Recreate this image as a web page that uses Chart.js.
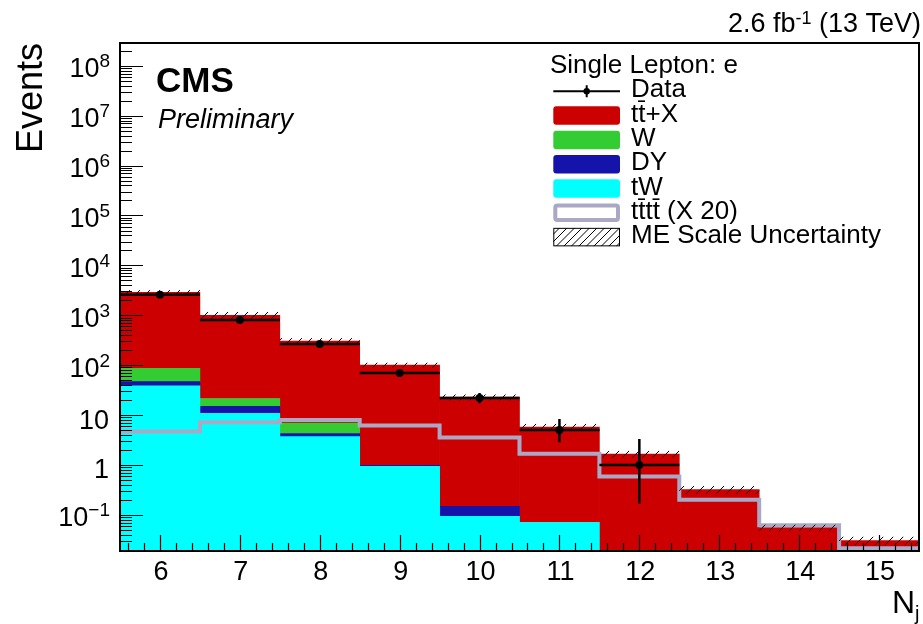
<!DOCTYPE html>
<html><head><meta charset="utf-8">
<script src="https://cdn.jsdelivr.net/npm/chart.js@4.4.0/dist/chart.umd.min.js"></script>
<style>html,body{margin:0;padding:0;background:#fff;} canvas{display:block;}</style>
</head><body>
<canvas id="c" width="923" height="624"></canvas>
<script>
// ---------- data ----------
const bins = [6, 7, 8, 9, 10, 11, 12, 13, 14, 15];
const xTickLabels = ['6', '7', '8', '9', '10', '11', '12', '13', '14', '15'];
const yTickExponents = [-1, 0, 1, 2, 3, 4, 5, 6, 7, 8];
const tW    = [38.5, 10.8, 3.7, 0.94, 0.094, 0.071, 0, 0, 0, 0];
const DY    = [8.5, 4.1, 0.58, 0.04, 0.055, 0, 0, 0, 0, 0];
const Wjets = [40, 6.6, 2.6, 0, 0, 0, 0, 0, 0, 0];
const ttX   = [2790, 980, 299, 100, 22.7, 5.7, 1.66, 0.32, 0.056, 0.0306];
const tttt20 = [4.7, 7.2, 8.0, 6.2, 3.56, 1.68, 0.59, 0.20, 0.062, 0.0215];
const dataCounts  = [2580, 805, 267, 70, 22, 5, 1, 0, 0, 0];
const dataErrLow  = [51, 28, 16, 8.3, 4.7, 2.16, 0.83, 0, 0, 0];
const dataErrHigh = [52, 29, 17, 9.4, 5.8, 3.38, 2.3, 0, 0, 0];
const meScaleUnc  = [0.11, 0.16, 0.14, 0.12, 0.14, 0.16, 0.16, 0.19, 0.15, 0.2];
const legendTitle = 'Single Lepton: e';
const legendLabels = ['Data', 'tt\u0304+X', 'W', 'DY', 'tW', 'tt\u0304tt\u0304 (X 20)', 'ME Scale Uncertainty'];
const yMin = 0.0189, yMax = 2.86e8, xMin = 5.5, xMax = 15.5;

const COL = { ttX: '#cc0000', W: '#33cc33', DY: '#1414aa', tW: '#00ffff', tttt: '#a9a9c6' };
const FONT = '"Liberation Sans", Arial, Helvetica, sans-serif';

function hatchRect(ctx, x0, y0, x1, y1, spacing) {
  ctx.save();
  ctx.beginPath(); ctx.rect(x0, y0, x1 - x0, y1 - y0); ctx.clip();
  ctx.beginPath();
  const cStart = Math.floor((x0 + y0) / spacing) * spacing;
  for (let c = cStart; c <= x1 + y1 + spacing; c += spacing) {
    ctx.moveTo(c - y1, y1); ctx.lineTo(c - y0, y0);
  }
  ctx.strokeStyle = '#000'; ctx.lineWidth = 1; ctx.stroke();
  ctx.restore();
}

function textSup(ctx, base, sup, xRight, baseY, mainSize, supSize, supRaise, extraStyle) {
  const st = extraStyle || '';
  ctx.font = st + supSize + 'px ' + FONT;
  const wSup = ctx.measureText(sup).width;
  ctx.textAlign = 'right'; ctx.textBaseline = 'alphabetic';
  ctx.fillText(sup, xRight, baseY - supRaise);
  ctx.font = st + mainSize + 'px ' + FONT;
  ctx.fillText(base, xRight - wSup, baseY);
}

const rootPlugin = {
  id: 'rootStyle',
  afterDatasetDraw(chart, args) {
    if (chart.data.datasets[args.index].label !== 'tttt') return;
    const ctx = chart.ctx, xs = chart.scales.xl, ys = chart.scales.y, a = chart.chartArea;
    ctx.save();
    ctx.beginPath(); ctx.rect(a.left, a.top, a.right - a.left, a.bottom - a.top); ctx.clip();
    bins.forEach((b, i) => {
      const tot = tW[i] + DY[i] + Wjets[i] + ttX[i];
      const x0 = xs.getPixelForValue(b - 0.5), x1 = xs.getPixelForValue(b + 0.5);
      const yt = ys.getPixelForValue(tot * (1 + meScaleUnc[i]));
      const yb = ys.getPixelForValue(tot * (1 - meScaleUnc[i]));
      hatchRect(ctx, x0, yt, x1, yb, 10);
    });
    ctx.restore();
  },
  afterDatasetsDraw(chart) {
    const ctx = chart.ctx, xs = chart.scales.xl, ys = chart.scales.y, a = chart.chartArea;
    ctx.save();
    ctx.beginPath(); ctx.rect(a.left, a.top, a.right - a.left, a.bottom - a.top); ctx.clip();
    ctx.strokeStyle = '#000'; ctx.lineWidth = 2.5;
    bins.forEach((b, i) => {
      if (dataCounts[i] <= 0) return;
      const xc = xs.getPixelForValue(b), yc = ys.getPixelForValue(dataCounts[i]);
      ctx.beginPath();
      ctx.moveTo(xs.getPixelForValue(b - 0.5), yc); ctx.lineTo(xs.getPixelForValue(b + 0.5), yc);
      ctx.moveTo(xc, ys.getPixelForValue(dataCounts[i] + dataErrHigh[i]));
      ctx.lineTo(xc, ys.getPixelForValue(Math.max(dataCounts[i] - dataErrLow[i], yMin)));
      ctx.stroke();
    });
    ctx.restore();
  },
  afterDraw(chart) {
    const ctx = chart.ctx, xs = chart.scales.xl, ys = chart.scales.y, a = chart.chartArea;
    ctx.save();
    // ticks
    ctx.strokeStyle = '#000'; ctx.lineWidth = 1.2;
    ctx.beginPath();
    for (let e = -2; e <= 8; e++) {
      for (let k = 1; k <= 9; k++) {
        const v = k * Math.pow(10, e);
        if (v < yMin || v > yMax) continue;
        const y = Math.round(ys.getPixelForValue(v)) + 0.5;
        ctx.moveTo(a.left, y); ctx.lineTo(a.left + (k === 1 ? 23 : 12), y);
      }
    }
    for (let t = 56; t <= 155; t += 2) {
      const v = t / 10;
      const x = Math.round(xs.getPixelForValue(v)) + 0.5;
      const major = (t % 10 === 0);
      ctx.moveTo(x, a.bottom); ctx.lineTo(x, a.bottom - (major ? 16 : 8));
    }
    ctx.stroke();
    // frame
    ctx.lineWidth = 2;
    ctx.strokeRect(a.left, a.top, a.right - a.left, a.bottom - a.top);
    // x tick labels
    ctx.fillStyle = '#000';
    ctx.font = '27px ' + FONT; ctx.textAlign = 'center'; ctx.textBaseline = 'alphabetic';
    bins.forEach((b, i) => ctx.fillText(xTickLabels[i], xs.getPixelForValue(b) + 1, 580));
    // y tick labels
    yTickExponents.forEach(n => {
      const y = ys.getPixelForValue(Math.pow(10, n));
      if (n === 0 || n === 1) {
        ctx.font = '27px ' + FONT; ctx.textAlign = 'right';
        ctx.fillText(n === 0 ? '1' : '10', 109, y + 13.5);
      } else {
        textSup(ctx, '10', n < 0 ? '\u2212' + (-n) : String(n), 110, y + 11.5, 27, 19, 10);
      }
    });
    // axis titles
    ctx.font = '32px ' + FONT; ctx.textAlign = 'left';
    ctx.fillText('N', 892, 612.5);
    ctx.font = '20px ' + FONT;
    ctx.fillText('j', 915, 620);
    ctx.save();
    ctx.translate(42, 43); ctx.rotate(-Math.PI / 2);
    ctx.font = '36px ' + FONT; ctx.textAlign = 'right';
    ctx.fillText('Events', 0, 0);
    ctx.restore();
    // CMS labels
    ctx.textAlign = 'left';
    ctx.font = 'bold 35px ' + FONT; ctx.fillText('CMS', 156, 91.5);
    ctx.font = 'italic 27px ' + FONT; ctx.fillText('Preliminary', 158, 127.5);
    // lumi
    ctx.font = '27px ' + FONT; ctx.textAlign = 'right';
    const tail = ' (13 TeV)';
    const wTail = ctx.measureText(tail).width;
    ctx.fillText(tail, 921, 31.5);
    textSup(ctx, '2.6 fb', '-1', 921 - wTail, 31.5, 27, 18, 8);
    // legend
    ctx.textAlign = 'left';
    ctx.font = '26px ' + FONT;
    ctx.fillText(legendTitle, 550, 73);
    const bx = 553.3, bw = 66.7, bh = 18.5, tx = 631;
    const rows = legendLabels.map((_, i) => 91.3 + i * 24.3);
    // data entry
    ctx.strokeStyle = '#000'; ctx.lineWidth = 2;
    ctx.beginPath(); ctx.moveTo(bx, rows[0]); ctx.lineTo(bx + bw, rows[0]);
    ctx.moveTo(586.7, rows[0] - 6); ctx.lineTo(586.7, rows[0] + 6); ctx.stroke();
    ctx.fillStyle = '#000'; ctx.beginPath(); ctx.arc(586.7, rows[0], 3.2, 0, 2 * Math.PI); ctx.fill();
    const fills = [COL.ttX, COL.W, COL.DY, COL.tW];
    fills.forEach((c, j) => {
      const cy = rows[j + 1];
      ctx.fillStyle = c; ctx.beginPath();
      ctx.roundRect(bx, cy - bh / 2, bw, bh, 3); ctx.fill();
    });
    // tttt outline box
    ctx.strokeStyle = COL.tttt; ctx.lineWidth = 4;
    ctx.beginPath(); ctx.roundRect(bx + 2, rows[5] - bh / 2 + 2, bw - 4, bh - 4, 2); ctx.stroke();
    // ME hatch box
    hatchRect(ctx, bx, rows[6] - bh / 2, bx + bw, rows[6] + bh / 2, 7.5);
    ctx.strokeStyle = '#000'; ctx.lineWidth = 1;
    ctx.strokeRect(bx + 0.5, rows[6] - bh / 2 + 0.5, bw - 1, bh - 1);
    ctx.fillStyle = '#000'; ctx.font = '26px ' + FONT;
    legendLabels.forEach((t, i) => ctx.fillText(t, tx, rows[i] + 6));
    ctx.restore();
  }
};

const dataPoints = bins.map((b, i) => ({ x: b, y: dataCounts[i] })).filter(p => p.y > 0);
const ttttSteps = bins.map((b, i) => ({ x: b - 0.5, y: tttt20[i] }))
  .concat([{ x: bins[bins.length - 1] + 0.5, y: tttt20[tttt20.length - 1] }]);

const barCommon = { type: 'bar', xAxisID: 'x', yAxisID: 'y', borderWidth: 0, grouped: false,
  categoryPercentage: 1.0, barPercentage: 1.0, stack: 'bkg' };

new Chart(document.getElementById('c'), {
  data: {
    labels: xTickLabels,
    datasets: [
      { type: 'line', label: 'Data', data: dataPoints, xAxisID: 'xl', yAxisID: 'y', stack: 'data',
        showLine: false, pointRadius: 4, pointBackgroundColor: '#000', pointBorderWidth: 0, order: 0 },
      { type: 'line', label: 'tttt', data: ttttSteps, xAxisID: 'xl', yAxisID: 'y', stack: 'sig',
        stepped: true, borderColor: COL.tttt, borderWidth: 4, pointRadius: 0, fill: false, order: 1 },
      Object.assign({ label: 'tW', data: tW, backgroundColor: COL.tW, order: 2 }, barCommon),
      Object.assign({ label: 'DY', data: DY, backgroundColor: COL.DY, order: 3 }, barCommon),
      Object.assign({ label: 'W', data: Wjets, backgroundColor: COL.W, order: 4 }, barCommon),
      Object.assign({ label: 'ttX', data: ttX, backgroundColor: COL.ttX, order: 5 }, barCommon)
    ]
  },
  options: {
    responsive: false, animation: false, devicePixelRatio: 1,
    layout: { padding: { left: 120, top: 43, right: 2, bottom: 73 } },
    plugins: { legend: { display: false }, tooltip: { enabled: false } },
    scales: {
      x: { type: 'category', offset: true, stacked: true, display: false },
      xl: { type: 'linear', min: xMin, max: xMax, display: false },
      y: { type: 'logarithmic', min: yMin, max: yMax, stacked: true, display: false }
    }
  },
  plugins: [rootPlugin]
});
</script>
</body></html>
